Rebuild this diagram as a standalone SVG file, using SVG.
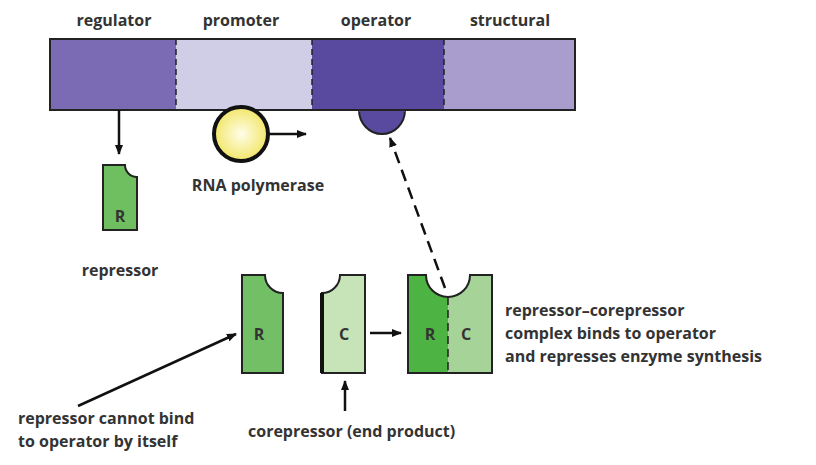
<svg xmlns="http://www.w3.org/2000/svg" width="816" height="465" viewBox="0 0 816 465">
<defs>
<marker id="ah" markerWidth="10" markerHeight="8" refX="9" refY="4" orient="auto" markerUnits="userSpaceOnUse"><path d="M0,0 L10,4 L0,8 z" fill="#111"/></marker>
<radialGradient id="yg" cx="0.5" cy="0.5" r="0.5"><stop offset="0" stop-color="#fffde8"/><stop offset="1" stop-color="#f2e66a"/></radialGradient>
</defs>
<style>
text{font-family:"Open Sans","Liberation Sans",sans-serif;font-weight:bold;font-size:16px;fill:#333}
.c{text-anchor:middle}
.ln{stroke:#111;stroke-width:2.5;fill:none}
.sh{stroke:#222;stroke-width:2}
</style>
<g id="dna">
<rect x="50" y="39" width="126" height="71" fill="#7b6bb5"/>
<rect x="176" y="39" width="136" height="71" fill="#d0cde6"/>
<rect x="312" y="39" width="132" height="71" fill="#594aa0"/>
<rect x="444" y="39" width="131" height="71" fill="#a89dcc"/>
<path d="M359,110 A23,24 0 0 0 405,110 Z" fill="#594aa0" class="sh"/>
<rect x="359" y="108" width="46" height="4" fill="#594aa0"/>
<rect x="50" y="39" width="525" height="71" fill="none" class="sh"/>
<line x1="176" y1="39" x2="176" y2="110" stroke="#222" stroke-width="1.5" stroke-dasharray="6,4"/>
<line x1="312" y1="39" x2="312" y2="110" stroke="#222" stroke-width="1.5" stroke-dasharray="6,4"/>
<line x1="444" y1="39" x2="444" y2="110" stroke="#222" stroke-width="1.5" stroke-dasharray="6,4"/>
<text class="c" x="114" y="26">regulator</text>
<text class="c" x="241" y="26">promoter</text>
<text class="c" x="376" y="26">operator</text>
<text class="c" x="510" y="26">structural</text>
</g>
<g id="repressor">
<path d="M103,165 H125 A12,12 0 0 0 137,177 V230 H103 Z" fill="#6fbf60" class="sh"/>
<text class="c" x="120" y="222">R</text>
<text class="c" x="120" y="276">repressor</text>
</g>
<g id="polymerase">
<circle cx="241" cy="134" r="27" fill="url(#yg)" stroke="#111" stroke-width="4"/>
<text class="c" x="258" y="191">RNA polymerase</text>
</g>
<g id="R">
<path d="M242,275 H265 A18,18 0 0 0 283,293 V373 H242 Z" fill="#72bf66" class="sh"/>
<text class="c" x="259" y="340">R</text>
</g>
<g id="C">
<path d="M365,275 V373 H322 V293 A18,18 0 0 0 340,275 Z" fill="#c7e3b8" class="sh"/>
<line x1="322" y1="293" x2="322" y2="373" stroke="#111" stroke-width="4"/>
<text class="c" x="344" y="340">C</text>
</g>
<g id="RC">
<path d="M408,275 H426 A22,22 0 0 0 448,297 V373 H408 Z" fill="#4db342"/>
<path d="M448,297 A22,22 0 0 0 470,275 H492 V373 H448 Z" fill="#a5d398"/>
<path d="M408,275 H426 A22,22 0 0 0 470,275 H492 V373 H408 Z" fill="none" class="sh"/>
<line x1="448" y1="297" x2="448" y2="373" stroke="#222" stroke-width="1.5" stroke-dasharray="8,5"/>
<text class="c" x="430" y="340">R</text>
<text class="c" x="466" y="340">C</text>
</g>
<g id="labels">
<text x="505" y="316">repressor–corepressor</text>
<text x="505" y="339">complex binds to operator</text>
<text x="505" y="362">and represses enzyme synthesis</text>
<text x="18" y="424">repressor cannot bind</text>
<text x="18" y="447">to operator by itself</text>
<text x="248" y="437">corepressor (end product)</text>
</g>
<g id="connectors">
<line class="ln" x1="119" y1="110" x2="119" y2="154" marker-end="url(#ah)"/>
<line class="ln" x1="268" y1="134" x2="306" y2="134" marker-end="url(#ah)"/>
<line class="ln" x1="445" y1="288" x2="390" y2="138" stroke-dasharray="12,7" marker-end="url(#ah)"/>
<line class="ln" x1="370" y1="333" x2="401" y2="333" marker-end="url(#ah)"/>
<line class="ln" x1="78" y1="406" x2="236" y2="334" marker-end="url(#ah)"/>
<line class="ln" x1="345" y1="411" x2="345" y2="381" marker-end="url(#ah)"/>
</g>
</svg>
